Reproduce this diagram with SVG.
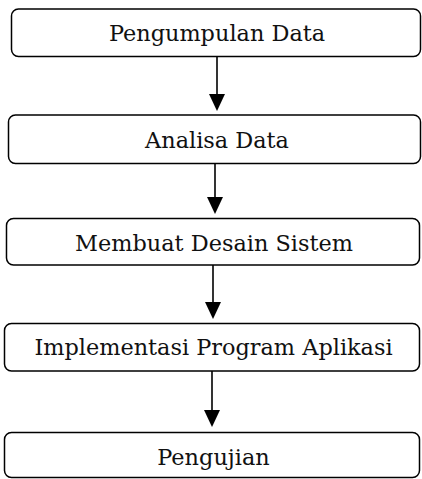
<svg xmlns="http://www.w3.org/2000/svg" width="422" height="479" viewBox="0 0 422 479">
<style>
.box{fill:#fff;stroke:#000;stroke-width:1.5}
.lbl{font-family:"DejaVu Serif","Liberation Serif",serif;font-size:22.4px;fill:#111;text-anchor:middle}
.conn{stroke:#000;stroke-width:1.6;fill:none}
.head{fill:#000}
</style>
<rect width="422" height="479" fill="#fff"/>
<g id="n1"><rect class="box" x="11.5" y="9" width="409" height="47.5" rx="7"/><text class="lbl" x="217" y="41">Pengumpulan Data</text></g>
<g id="n2"><rect class="box" x="8.5" y="115" width="412" height="48.5" rx="7"/><text class="lbl" x="217" y="148">Analisa Data</text></g>
<g id="n3"><rect class="box" x="6.5" y="218.5" width="413" height="46.5" rx="7"/><text class="lbl" x="214" y="251">Membuat Desain Sistem</text></g>
<g id="n4"><rect class="box" x="4.5" y="323.5" width="415" height="47.5" rx="7"/><text class="lbl" x="213.5" y="355">Implementasi Program Aplikasi</text></g>
<g id="n5"><rect class="box" x="4.5" y="432.5" width="415" height="45" rx="7"/><text class="lbl" x="213.5" y="465">Pengujian</text></g>
<g id="connectors">
<line class="conn" x1="217" y1="57" x2="217" y2="96"/><polygon class="head" points="209,94 225,94 217,111"/>
<line class="conn" x1="215" y1="164" x2="215" y2="199"/><polygon class="head" points="207,197 223,197 215,214"/>
<line class="conn" x1="213" y1="265" x2="213" y2="304"/><polygon class="head" points="205,302 221,302 213,319"/>
<line class="conn" x1="212" y1="371" x2="212" y2="412"/><polygon class="head" points="204,410 220,410 212,427"/>
</g>
</svg>
